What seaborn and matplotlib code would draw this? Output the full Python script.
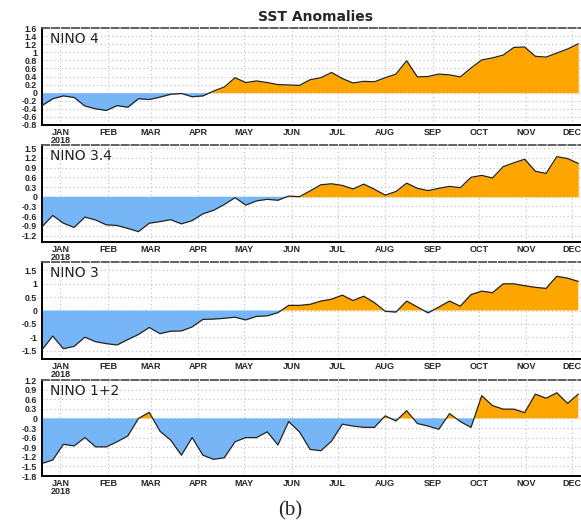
import matplotlib
matplotlib.use('Agg')
import matplotlib.pyplot as plt
import seaborn as sns
import numpy as np
import pandas as pd

# weekly SST anomalies (deg C), 2018
nino4 = [-0.32, -0.15, -0.08, -0.12, -0.33, -0.40, -0.44, -0.32, -0.36, -0.15,
         -0.17, -0.11, -0.04, -0.02, -0.10, -0.08, 0.04, 0.14, 0.37, 0.25,
         0.29, 0.25, 0.20, 0.19, 0.18, 0.32, 0.37, 0.50, 0.35, 0.24,
         0.28, 0.27, 0.37, 0.46, 0.79, 0.39, 0.40, 0.46, 0.44, 0.39,
         0.61, 0.81, 0.86, 0.93, 1.12, 1.13, 0.90, 0.88, 0.98, 1.08, 1.21]
nino34 = [-0.93, -0.58, -0.82, -0.95, -0.63, -0.72, -0.87, -0.89, -0.98, -1.08,
          -0.82, -0.77, -0.71, -0.84, -0.74, -0.53, -0.42, -0.24, -0.03, -0.26,
          -0.13, -0.08, -0.11, 0.02, 0.00, 0.18, 0.37, 0.40, 0.35, 0.24,
          0.39, 0.23, 0.05, 0.16, 0.42, 0.26, 0.19, 0.26, 0.32, 0.28,
          0.60, 0.66, 0.58, 0.93, 1.05, 1.16, 0.79, 0.72, 1.24, 1.18, 1.03]
nino3 = [-1.46, -0.95, -1.42, -1.33, -0.99, -1.16, -1.23, -1.28, -1.08, -0.89,
         -0.63, -0.86, -0.77, -0.76, -0.61, -0.33, -0.32, -0.29, -0.25, -0.35,
         -0.22, -0.20, -0.08, 0.19, 0.19, 0.23, 0.35, 0.42, 0.57, 0.37,
         0.53, 0.29, -0.03, -0.06, 0.35, 0.13, -0.09, 0.13, 0.35, 0.16,
         0.59, 0.72, 0.66, 0.99, 0.99, 0.92, 0.86, 0.82, 1.27, 1.20, 1.08]
nino12 = [-1.41, -1.30, -0.81, -0.86, -0.60, -0.89, -0.89, -0.73, -0.55, 0.00,
          0.19, -0.40, -0.68, -1.15, -0.60, -1.15, -1.28, -1.23, -0.73, -0.60,
          -0.60, -0.42, -0.83, -0.10, -0.42, -0.97, -1.01, -0.71, -0.18, -0.24,
          -0.28, -0.28, 0.08, -0.08, 0.24, -0.16, -0.24, -0.34, 0.15, -0.10,
          -0.28, 0.71, 0.40, 0.29, 0.29, 0.18, 0.76, 0.63, 0.80, 0.47, 0.76]

region_names = ['NINO 4', 'NINO 3.4', 'NINO 3', 'NINO 1+2']
month_labels = ['JAN\n2018', 'FEB', 'MAR', 'APR', 'MAY', 'JUN',
                'JUL', 'AUG', 'SEP', 'OCT', 'NOV', 'DEC']

weeks = pd.date_range('2018-01-03', periods=len(nino4), freq='7D')
month_ticks = pd.date_range('2018-01-01', periods=12, freq='MS') + pd.Timedelta(days=14)

sns.set_style('white')
plt.rcParams['font.family'] = ['Liberation Sans', 'DejaVu Sans']

ORANGE = '#FFA500'
BLUE = '#76B5F6'

W, H = 581, 522
fig = plt.figure(figsize=(W / 100, H / 100), dpi=100)

# values, y-limits, y-ticks, top edge (px), height (px)
panels = [
    (nino4, (-0.8, 1.6), np.arange(-0.8, 1.61, 0.2), 28, 97),
    (nino34, (-1.4, 1.6), np.arange(-1.2, 1.51, 0.3), 145, 97),
    (nino3, (-1.8, 1.8), np.arange(-1.5, 1.51, 0.5), 262, 97),
    (nino12, (-1.8, 1.2), np.arange(-1.8, 1.21, 0.3), 380, 96),
]

ax_left, ax_width = 42, 547
xlim = (pd.Timestamp('2018-01-03'), pd.Timestamp('2018-12-26'))


def fmt_tick(t):
    t = round(float(t), 1)
    if abs(t) < 1e-9:
        return '0'
    return f'{t:g}'


for name, (vals, ylim, yticks, top, height) in zip(region_names, panels):
    ax = fig.add_axes([ax_left / W, 1 - (top + height) / H, ax_width / W, height / H])
    y = np.array(vals)

    ax.fill_between(weeks, y, 0, where=y >= 0, interpolate=True, color=ORANGE, lw=0, zorder=2)
    ax.fill_between(weeks, y, 0, where=y <= 0, interpolate=True, color=BLUE, lw=0, zorder=2)
    sns.lineplot(x=weeks, y=y, ax=ax, color='#222222', lw=0.9, zorder=3)

    ax.set_xlim(*xlim)
    ax.set_ylim(*ylim)
    ax.set_yticks(yticks)
    ax.set_yticklabels([fmt_tick(t) for t in yticks], fontsize=6.3, fontweight='bold')
    ax.set_xticks(month_ticks)
    ax.set_xticklabels(month_labels, fontsize=6.5, fontweight='bold', linespacing=0.85)
    ax.set_xlabel('')
    ax.set_ylabel('')

    ax.grid(True, color='#bdbdbd', linestyle=(0, (1, 2.5)), lw=0.8, zorder=1)
    ax.tick_params(axis='y', direction='out', length=2.5, width=1, pad=1, color='black')
    ax.tick_params(axis='x', direction='in', length=3, width=1, pad=2, color='black')

    for side in ['left', 'bottom']:
        ax.spines[side].set_color('black')
        ax.spines[side].set_linewidth(1.4)
    ax.spines['top'].set_color('#555555')
    ax.spines['top'].set_linewidth(1.3)
    ax.spines['top'].set_linestyle((0, (4, 1.5)))
    ax.spines['right'].set_visible(False)

    ax.text(0.015, 0.955, name, transform=ax.transAxes, ha='left', va='top',
            fontsize=10, family='DejaVu Sans', color='#222222', zorder=5)

fig.text((ax_left + ax_width / 2) / W, 1 - 17 / H, 'SST Anomalies', ha='center', va='center',
         fontsize=10, fontweight='bold', family='DejaVu Sans')
fig.text(290 / W, 1 - 511 / H, '(b)', ha='center', va='center',
         fontsize=15, family='Liberation Serif')

fig.savefig('out.png', dpi=100)
